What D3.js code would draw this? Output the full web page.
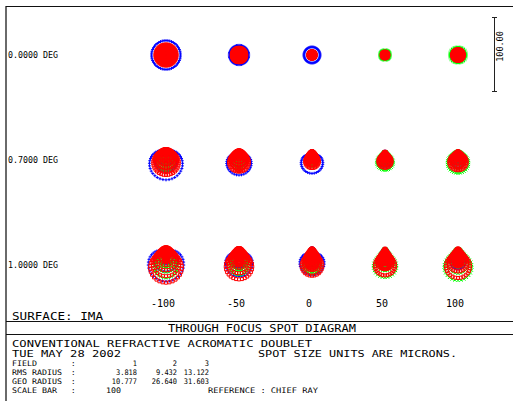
<!DOCTYPE html>
<html>
<head>
<meta charset="utf-8">
<script src="https://cdn.jsdelivr.net/npm/d3@7"></script>
<style>
html, body { margin: 0; padding: 0; background: #fff; overflow: hidden; }
svg { display: block; }
text { font-family: "DejaVu Sans Mono", "Liberation Mono", monospace; fill: #000; }
</style>
</head>
<body>
<svg id="chart" width="513" height="401"></svg>
<script>
// Through-focus positions (microns) and field angles
const focusPositions = [-100, -50, 0, 50, 100];
const fieldLabels = ["0.0000 DEG", "0.7000 DEG", "1.0000 DEG"];

// Wavelength order as traced: F (blue), d (green), C (red); red is plotted last
const waveColors = ["#0000ff", "#00ff00", "#ff0000"];
const waveMarkers = ["plus", "cross", "square"];

// Defocus term per wavelength at each focus position (microns at pupil edge)
const defocusBlue = [-3.7, -10.1, -12.3, -8, -7];
const defocusGreen = [10, 6, 1.5, -3.5, -7.4];
const defocusRed = [16, 11.6, 6.7, -2.3, -5.7];

// Spherical term per wavelength at each focus position (microns at pupil edge)
const sphericalBlue = [23, 23, 23, 6, 4];
const sphericalGreen = [-3, -3, -3, -3, -3];
const sphericalRed = [-2, -2, -2, -2, -2];

// Coma per wavelength and field (microns), same order as fieldLabels
const comaBlue = [0, 6, 8];
const comaGreen = [0, 6, 10.6];
const comaRed = [0, 5.6, 10.4];

// Summary table
const tableFields = ["1", "2", "3"];
const rmsRadius = ["3.818", "9.432", "13.122"];
const geoRadius = ["10.777", "26.640", "31.603"];
const scaleBarValue = 100;
const scaleBarLabel = "100.00";

const titleText = "THROUGH FOCUS SPOT DIAGRAM";
const lensTitle = "CONVENTIONAL REFRACTIVE ACROMATIC DOUBLET";
const dateText = "TUE MAY 28 2002";
const unitsText = "SPOT SIZE UNITS ARE MICRONS.";
const surfaceText = "SURFACE: IMA";
const referenceText = "REFERENCE  : CHIEF RAY";
const tableLabels = ["FIELD", "RMS RADIUS", "GEO RADIUS", "SCALE BAR"];

const pupilRings = 8;

const defocus = [defocusBlue, defocusGreen, defocusRed];
const spherical = [sphericalBlue, sphericalGreen, sphericalRed];
const coma = [comaBlue, comaGreen, comaRed];

const svg = d3.select("#chart");

// Scales
const xCol = d3.scaleLinear().domain([-100, 100]).range([166, 458]);
const yRow = d3.scalePoint().domain(fieldLabels).range([55, 248.8]);
const um = d3.scaleLinear().domain([0, 100]).range([0, 75]);

// Frame
svg.append("rect").attr("x", 5).attr("y", 6).attr("width", 2).attr("height", 395).attr("fill", "#6a6a6a");
svg.append("line").attr("x1", 6).attr("x2", 513).attr("y1", 6.5).attr("y2", 6.5).attr("stroke", "#111");
svg.append("line").attr("x1", 6).attr("x2", 513).attr("y1", 321.5).attr("y2", 321.5).attr("stroke", "#111");
svg.append("line").attr("x1", 6).attr("x2", 513).attr("y1", 334.5).attr("y2", 334.5).attr("stroke", "#111");

// Hexapolar pupil sampling
const pupil = [{rho: 0, theta: 0}];
for (let k = 1; k <= pupilRings; k++) {
  const n = 6 * k;
  for (let j = 0; j < n; j++) pupil.push({rho: k / pupilRings, theta: 2 * Math.PI * j / n});
}

const markerPath = {
  plus: "M-1.5,0H1.5M0,-1.5V1.5",
  cross: "M-1.5,-1.5L1.5,1.5M-1.5,1.5L1.5,-1.5",
  square: "M-1.5,-1.5H1.5V1.5H-1.5Z"
};

// Ray intercepts from the aberration terms, in microns relative to the chief ray
function intercept(p, wi, fi, pi) {
  const D = defocus[wi][pi], S = spherical[wi][pi], C = coma[wi][fi];
  const r = D * p.rho + S * p.rho ** 3;
  const r2 = p.rho * p.rho;
  return [
    r * Math.sin(p.theta) + C * r2 * Math.sin(2 * p.theta),
    r * Math.cos(p.theta) + C * r2 * (2 + Math.cos(2 * p.theta))
  ];
}

const plot = svg.append("g");
fieldLabels.forEach((fl, fi) => {
  focusPositions.forEach((fp, pi) => {
    const cell = plot.append("g").attr("transform", `translate(${xCol(fp)},${yRow(fl)})`);
    waveColors.forEach((col, wi) => {
      const pts = pupil.map(p => intercept(p, wi, fi, pi).map(um));
      cell.append("g")
        .selectAll("path").data(pts).join("path")
        .attr("transform", d => `translate(${d[0].toFixed(2)},${d[1].toFixed(2)})`)
        .attr("d", markerPath[waveMarkers[wi]])
        .attr("fill", "none").attr("stroke", col).attr("stroke-width", 1);
    });
  });
});

// Field labels
svg.append("g").selectAll("text").data(fieldLabels).join("text")
  .attr("x", 8).attr("y", (d, i) => [58, 163, 268][i])
  .attr("font-size", 8.5).attr("textLength", 50).attr("lengthAdjust", "spacingAndGlyphs")
  .text(d => d);

// Focus labels
svg.append("g").selectAll("text").data(focusPositions).join("text")
  .attr("x", d => xCol(d) - 3).attr("y", 307).attr("text-anchor", "middle")
  .attr("font-size", 10)
  .text(d => d);

// Scale bar
const barX = 494.5, barTop = 17;
const barLen = um(scaleBarValue);
const sb = svg.append("g").attr("stroke", "#222");
sb.append("line").attr("x1", barX).attr("x2", barX).attr("y1", barTop).attr("y2", barTop + barLen);
sb.append("line").attr("x1", barX - 2.5).attr("x2", barX + 2.5).attr("y1", barTop + 0.5).attr("y2", barTop + 0.5);
sb.append("line").attr("x1", barX - 2.5).attr("x2", barX + 2.5).attr("y1", barTop + barLen - 0.5).attr("y2", barTop + barLen - 0.5);
svg.append("text").attr("transform", `translate(503,${barTop + barLen / 2 - 8}) rotate(-90)`)
  .attr("text-anchor", "middle").attr("font-size", 8.5).text(scaleBarLabel);

// Footer text
const big = 9.2;
svg.append("text").attr("x", 12).attr("y", 319.5).attr("font-size", 11)
  .attr("textLength", 91).attr("lengthAdjust", "spacingAndGlyphs").text(surfaceText);
svg.append("text").attr("x", 262).attr("y", 332).attr("font-size", 10.5).attr("text-anchor", "middle")
  .attr("textLength", 188).attr("lengthAdjust", "spacingAndGlyphs").text(titleText);
svg.append("text").attr("x", 12).attr("y", 346.5).attr("font-size", big)
  .attr("textLength", 300).attr("lengthAdjust", "spacingAndGlyphs").text(lensTitle);
svg.append("text").attr("x", 12).attr("y", 356.5).attr("font-size", big)
  .attr("textLength", 109).attr("lengthAdjust", "spacingAndGlyphs").text(dateText);
svg.append("text").attr("x", 258).attr("y", 356.5).attr("font-size", big)
  .attr("textLength", 199).attr("lengthAdjust", "spacingAndGlyphs").text(unitsText);

const rowsY = [365.5, 374.5, 383.5, 393];
const tb = svg.append("g").attr("font-size", 7.6);
tableLabels.forEach((lab, i) => {
  tb.append("text").attr("x", 12).attr("y", rowsY[i])
    .attr("textLength", lab.length * 5).attr("lengthAdjust", "spacingAndGlyphs").text(lab);
  tb.append("text").attr("x", 71).attr("y", rowsY[i]).text(":");
});
const colRight = [137, 177, 209];
[tableFields, rmsRadius, geoRadius].forEach((row, ri) => {
  row.forEach((v, ci) => {
    tb.append("text").attr("x", colRight[ci]).attr("y", rowsY[ri]).attr("text-anchor", "end")
      .attr("textLength", v.length * 4.2).attr("lengthAdjust", "spacingAndGlyphs").text(v);
  });
});
tb.append("text").attr("x", 106).attr("y", rowsY[3]).attr("textLength", 15)
  .attr("lengthAdjust", "spacingAndGlyphs").text(scaleBarValue);
tb.append("text").attr("x", 208).attr("y", rowsY[3]).attr("textLength", 110)
  .attr("lengthAdjust", "spacingAndGlyphs").text(referenceText);
</script>
</body>
</html>
